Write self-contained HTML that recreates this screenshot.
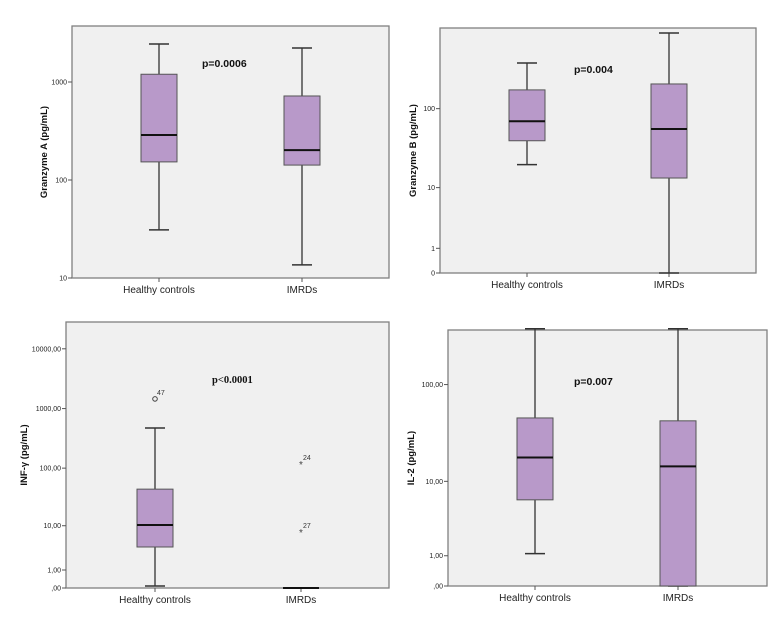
<!DOCTYPE html>
<html><head><meta charset="utf-8">
<style>
html,body{margin:0;padding:0;background:#fff;}
svg{display:block;font-family:"Liberation Sans",sans-serif;}
</style></head>
<body>
<svg id="fig" width="773" height="620" viewBox="0 0 773 620" xmlns="http://www.w3.org/2000/svg"></svg>
<script>
// Shared categories
const categories = ["Healthy controls", "IMRDs"];

// Panel A: Granzyme A (log scale)
const gzaLow = [31, 13.6];
const gzaQ1 = [153, 142];
const gzaMedian = [288, 202];
const gzaQ3 = [1200, 720];
const gzaHigh = [2440, 2220];
const gzaTicks = [10, 100, 1000];
const gzaTickLabels = ["10", "100", "1000"];

// Panel B: Granzyme B (log(x+1) scale)
const gzbLow = [20, 0];
const gzbQ1 = [40, 13.4];
const gzbMedian = [70, 56];
const gzbQ3 = [170, 201];
const gzbHigh = [363, 844];
const gzbTicks = [0, 1, 10, 100];
const gzbTickLabels = ["0", "1", "10", "100"];

// Panel C: INF-y
const ifnLow = [0.08, 0];
const ifnQ1 = [3.85, 0];
const ifnMedian = [10.3, 0];
const ifnQ3 = [44, 0];
const ifnHigh = [473, 0];
const ifnOutlierGroup = [0, 1, 1];
const ifnOutlierValue = [1450, 117, 7.6];
const ifnOutlierLabel = ["47", "24", "27"];
const ifnOutlierKind = ["circle", "star", "star"];
const ifnTicks = [0, 1, 10, 100, 1000, 10000];
const ifnTickLabels = [",00", "1,00", "10,00", "100,00", "1000,00", "10000,00"];

// Panel D: IL-2
const il2Low = [1.1, 0];
const il2Q1 = [6.2, 0];
const il2Median = [18, 14.5];
const il2Q3 = [46, 43];
const il2High = [362, 362];
const il2Ticks = [0, 1, 10, 100];
const il2TickLabels = [",00", "1,00", "10,00", "100,00"];

const NS = "http://www.w3.org/2000/svg";
const svg = document.getElementById("fig");
function mk(tag, attrs, parent) {
  const e = document.createElementNS(NS, tag);
  for (const k in attrs) e.setAttribute(k, attrs[k]);
  (parent || svg).appendChild(e);
  return e;
}

function panel(cfg) {
  const g = mk("g", {});
  
  
  const f = cfg.frame;
  const bg = mk("rect", {x: f.x0, y: f.y0, width: f.x1 - f.x0, height: f.y1 - f.y0, fill: "#f0f0f0", stroke: "#808080", "stroke-width": 1.3}, g);
  
  
  const yScale = cfg.yScale;
  cfg.ticks.forEach((t, i) => {
    const y = yScale(t);
    mk("line", {x1: f.x0 - 4, x2: f.x0, y1: y, y2: y, stroke: "#555", "stroke-width": 1}, g);
    const tx = mk("text", {x: f.x0 - 5, y: y + 2.5, "font-size": 7, "text-anchor": "end", fill: "#222"}, g);
    tx.textContent = cfg.tickLabels[i];
    
    
  });
  const yc = (f.y0 + f.y1) / 2;
  const yt = mk("text", {x: cfg.titleX, y: yc, "font-size": 9.5, "font-weight": "bold", "text-anchor": "middle", fill: "#111", transform: `rotate(-90 ${cfg.titleX} ${yc})`}, g);
  yt.textContent = cfg.title;
  
  
  const pv = mk("text", {x: cfg.pX, y: cfg.pY, "font-size": 10.5, "font-weight": "bold", fill: "#111", "font-family": cfg.pSerif ? '"Liberation Serif",serif' : '"Liberation Sans",sans-serif'}, g);
  pv.textContent = cfg.p;
  
  
  const bw = 36, cw = 20;
  categories.forEach((c, i) => {
    const x = cfg.xs[i];
    mk("line", {x1: x, x2: x, y1: f.y1, y2: f.y1 + 4, stroke: "#555", "stroke-width": 1}, g);
    const xl = mk("text", {x: x, y: f.y1 + 15, "font-size": 10, "text-anchor": "middle", fill: "#222"}, g);
    xl.textContent = c;
    
    
    const lo = yScale(cfg.low[i]), hi = yScale(cfg.high[i]);
    const q1 = yScale(cfg.q1[i]), q3 = yScale(cfg.q3[i]), md = yScale(cfg.med[i]);
    const bx = mk("g", {}, g);
    
    
    mk("line", {x1: x, x2: x, y1: hi, y2: q3, stroke: "#333", "stroke-width": 1.3}, bx);
    mk("line", {x1: x, x2: x, y1: q1, y2: lo, stroke: "#333", "stroke-width": 1.3}, bx);
    mk("line", {x1: x - cw / 2, x2: x + cw / 2, y1: hi, y2: hi, stroke: "#333", "stroke-width": 1.5}, bx);
    mk("line", {x1: x - cw / 2, x2: x + cw / 2, y1: lo, y2: lo, stroke: "#333", "stroke-width": 1.5}, bx);
    if (Math.abs(q1 - q3) > 0.5) {
      mk("rect", {x: x - bw / 2, y: q3, width: bw, height: q1 - q3, fill: "#b899c9", stroke: "#555", "stroke-width": 1}, bx);
    }
    mk("line", {x1: x - bw / 2, x2: x + bw / 2, y1: md, y2: md, stroke: "#111", "stroke-width": 2}, bx);
  });
  if (cfg.outG) {
    cfg.outG.forEach((gi, k) => {
      const x = cfg.xs[gi], y = yScale(cfg.outV[k]);
      let m;
      if (cfg.outK[k] === "circle") {
        m = mk("circle", {cx: x, cy: y, r: 2.3, fill: "none", stroke: "#444", "stroke-width": 1}, g);
      } else {
        m = mk("text", {x: x, y: y + 4, "font-size": 10, "text-anchor": "middle", fill: "#444"}, g);
        m.textContent = "*";
      }
      
      
      const l = mk("text", {x: x + 2, y: y - 4, "font-size": 7, fill: "#333"}, g);
      l.textContent = cfg.outL[k];
      
      
    });
  }
}

function logScale(y10, ppd) { return v => y10 - (Math.log10(v) - 1) * ppd; }
function log1pScale(y0, ppu) { return v => y0 - Math.log10(v + 1) * ppu; }

panel({name: "granzyme-a-chart", frame: {x0: 72, x1: 389, y0: 26, y1: 278}, yScale: logScale(278, 98),
  ticks: gzaTicks, tickLabels: gzaTickLabels, title: "Granzyme A (pg/mL)", titleX: 47,
  p: "p=0.0006", pX: 202, pY: 67, xs: [159, 302],
  low: gzaLow, q1: gzaQ1, med: gzaMedian, q3: gzaQ3, high: gzaHigh});

panel({name: "granzyme-b-chart", frame: {x0: 440, x1: 756, y0: 28, y1: 273}, yScale: log1pScale(273, 82),
  ticks: gzbTicks, tickLabels: gzbTickLabels, title: "Granzyme B (pg/mL)", titleX: 416,
  p: "p=0.004", pX: 574, pY: 73, xs: [527, 669],
  low: gzbLow, q1: gzbQ1, med: gzbMedian, q3: gzbQ3, high: gzbHigh});

panel({name: "inf-gamma-chart", frame: {x0: 66, x1: 389, y0: 322, y1: 588}, yScale: log1pScale(588, 59.8),
  ticks: ifnTicks, tickLabels: ifnTickLabels, title: "INF-γ (pg/mL)", titleX: 27,
  p: "p<0.0001", pX: 212, pY: 383, pSerif: true, xs: [155, 301],
  low: ifnLow, q1: ifnQ1, med: ifnMedian, q3: ifnQ3, high: ifnHigh,
  outG: ifnOutlierGroup, outV: ifnOutlierValue, outL: ifnOutlierLabel, outK: ifnOutlierKind});

panel({name: "il-2-chart", frame: {x0: 448, x1: 767, y0: 330, y1: 586}, yScale: log1pScale(586, 100.5),
  ticks: il2Ticks, tickLabels: il2TickLabels, title: "IL-2 (pg/mL)", titleX: 414,
  p: "p=0.007", pX: 574, pY: 385, xs: [535, 678],
  low: il2Low, q1: il2Q1, med: il2Median, q3: il2Q3, high: il2High});
</script>
</body></html>
